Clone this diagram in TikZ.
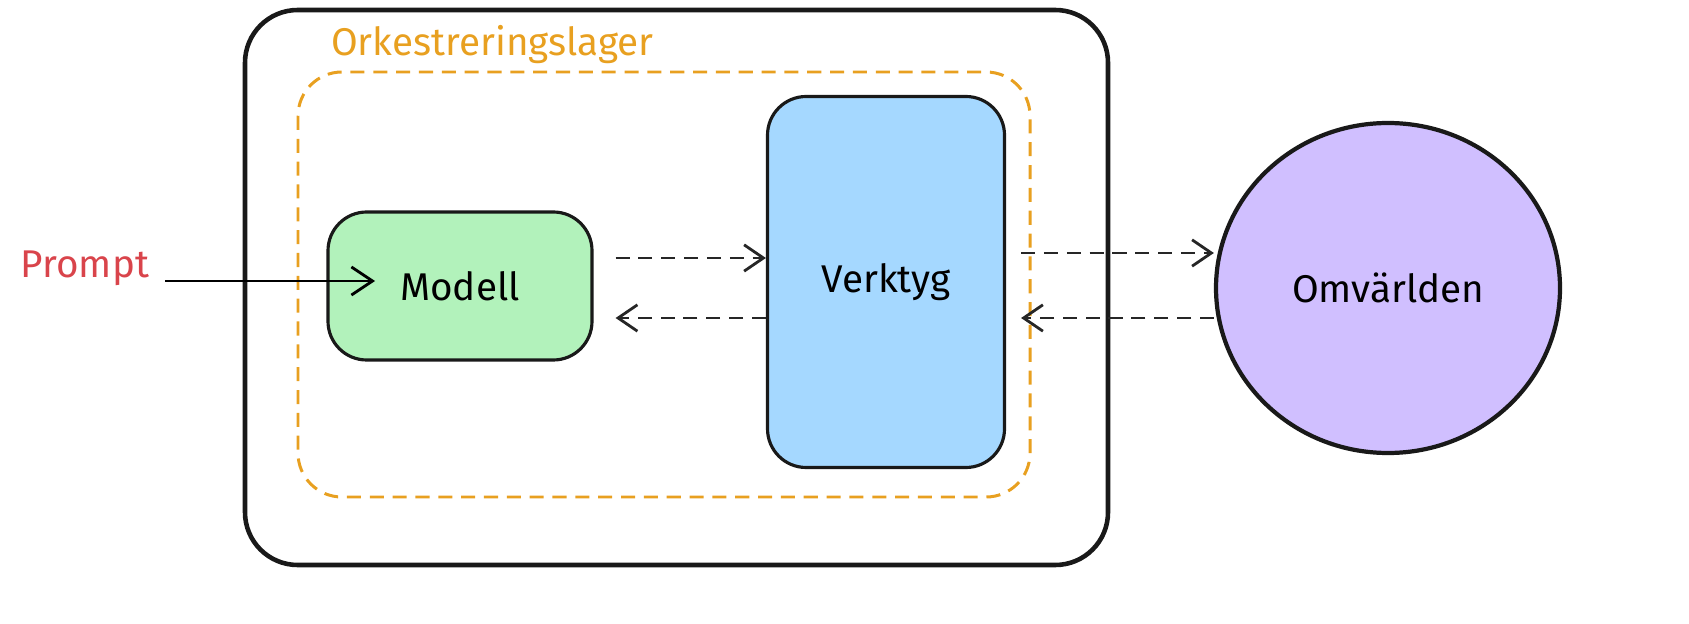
\documentclass[tikz,border=0pt]{standalone}
\usepackage{fontspec}
\setmainfont{Fira Sans}
\usetikzlibrary{arrows.meta,shapes.geometric}
\definecolor{modellgreen}{HTML}{B2F2BB}
\definecolor{verktygblue}{HTML}{A5D8FF}
\definecolor{omvlila}{HTML}{D0BFFF}
\definecolor{orkorange}{HTML}{E8A020}
\definecolor{promptred}{HTML}{D9444B}
\tikzset{
  box/.style={draw=black!90, line width=1.8pt, rounded corners=22pt},
  lbl/.style={font=\fontsize{22}{26}\selectfont},
  dasharr/.style={draw=black!85, line width=1.6pt, dash pattern=on 8pt off 5pt, -{Straight Barb[length=11pt,width=15pt]}}
}
\begin{document}
\begin{tikzpicture}[x=0.02cm,y=-0.02cm]
        \useasboundingbox (0,0) rectangle (1689,624);
        % yttre ram
        \draw[box, line width=2.6pt, rounded corners=30pt] (245,10) rectangle (1108,565);
        % orkestreringslager
        \draw[orkorange, line width=1.7pt, dash pattern=on 8pt off 5pt, rounded corners=25pt] (298,72) rectangle (1030,497);
        \node[lbl, text=orkorange, anchor=west] (ork) at (325,45) {Orkestreringslager};
        % noder
        \node[box, fill=modellgreen, minimum width=264*0.02cm, minimum height=148*0.02cm, lbl] (modell) at (460,286) {Modell};
        \node[box, fill=verktygblue, minimum width=237*0.02cm, minimum height=371*0.02cm, lbl] (verktyg) at (886,282) {Verktyg};
        \node[ellipse, draw=black!90, line width=2.4pt, fill=omvlila, minimum width=344*0.02cm, minimum height=330*0.02cm, lbl] (omv) at (1388,288) {Omvärlden};
        \node[lbl, text=promptred] (prompt) at (85,268) {Prompt};
        % pilar
        \coordinate (pin) at (375,281);
        \draw[line width=1.6pt, -{Straight Barb[length=12pt,width=16pt]}] (prompt.east |- pin) ++(10,0) -- (pin);
        \draw[dasharr] (modell.east |- 0,258) ++(22,0) -- (verktyg.west |- 0,258);
        \draw[dasharr] (verktyg.west |- 0,318) -- ([xshift=22*0.02cm]modell.east |- 0,318);
        \draw[dasharr] ([xshift=15*0.02cm]verktyg.east |- 0,253) -- (omv.west |- 0,253);
        \draw[dasharr] (omv.west |- 0,318) -- ([xshift=15*0.02cm]verktyg.east |- 0,318);
\end{tikzpicture}
\end{document}
